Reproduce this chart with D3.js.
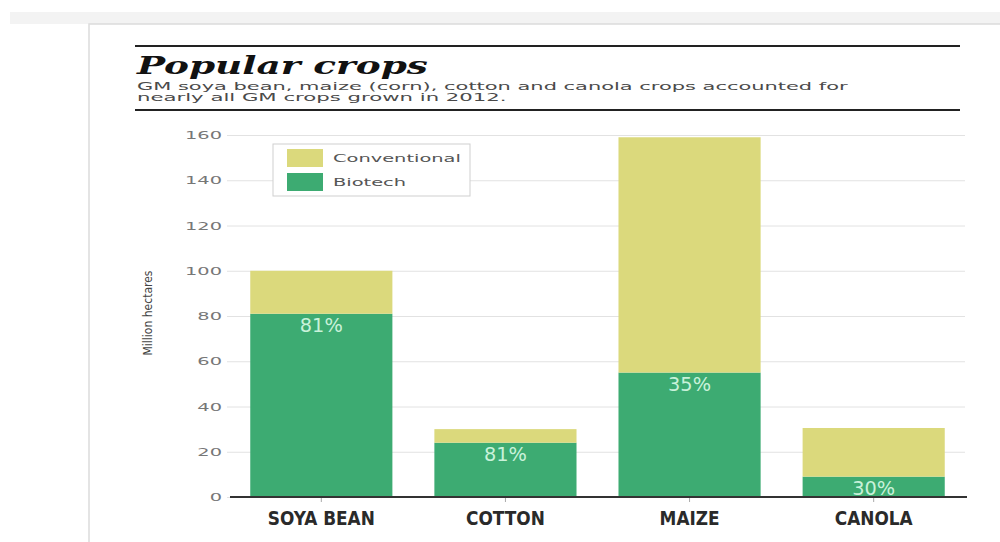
<!DOCTYPE html>
<html lang="en">
<head>
<meta charset="UTF-8">
<title>Popular crops</title>
<script src="https://d3js.org/d3.v7.min.js"></script>
<style>
    body { margin: 0; background: #fff; }
    svg { display: block; }
</style>
</head>
<body>
<div class="canvas"></div>
<script>
    // data
    const crops = ['SOYA BEAN', 'COTTON', 'MAIZE', 'CANOLA']
    const biotech = [81, 24, 55, 9]
    const conventional = [19, 6, 104, 21.5]
    const shares = ['81%', '81%', '35%', '30%']
    const yTicks = [0, 20, 40, 60, 80, 100, 120, 140, 160]
    const seriesNames = ['Conventional', 'Biotech']
    const colors = { Conventional: '#dbd97c', Biotech: '#3dab72' }

    const width = 1000
    const height = 542
    let [mt, mb, mr, ml] = [135, 45, 35, 230]

    const condensed = '"DejaVu Sans Condensed", "Liberation Sans Narrow", sans-serif'

    const svg = d3.select('.canvas')
                .append('svg')
                .attr('width', width)
                .attr('height', height)

    // the picture is stretched sideways, so the text is too.
    // k is worked out from how wide one sample label looks in the picture
    function stretchTo(sel, sampleWidth) {
        const first = sel.node()
        const k = sampleWidth / first.getComputedTextLength()
        sel.each(function() {
            const t = d3.select(this)
            const x = +t.attr('x') || 0
            t.attr('x', x / k)
             .attr('transform', (t.attr('transform') || '') + ` scale(${k},1)`)
        })
    }

    // page frame
    svg.append('rect').attr('x', 10).attr('y', 12).attr('width', 990).attr('height', 12).attr('fill', '#f3f3f3')
    svg.append('rect').attr('x', 89).attr('y', 24).attr('width', 920).attr('height', 530)
        .attr('fill', '#fff').attr('stroke', '#dcdcdc').attr('stroke-width', 1.5)

    // header
    svg.append('line').attr('x1', 135).attr('x2', 960).attr('y1', 46).attr('y2', 46)
        .attr('stroke', '#222').attr('stroke-width', 2)
    svg.append('line').attr('x1', 135).attr('x2', 960).attr('y1', 110).attr('y2', 110)
        .attr('stroke', '#222').attr('stroke-width', 2)

    const title = svg.append('text')
        .attr('x', 137).attr('y', 74)
        .style('font-family', '"DejaVu Serif", serif')
        .style('font-weight', 'bold').style('font-style', 'italic')
        .style('font-size', '24px').attr('fill', '#111')
        .text('Popular crops')
    stretchTo(title, 291)

    const sub = svg.append('g')
        .style('font-family', '"DejaVu Sans", sans-serif')
        .style('font-size', '11px').attr('fill', '#4a4a4a')
    const sub1 = sub.append('text').attr('x', 137).attr('y', 90)
        .text('GM soya bean, maize (corn), cotton and canola crops accounted for')
    const sub2 = sub.append('text').attr('x', 137).attr('y', 101)
        .text('nearly all GM crops grown in 2012.')
    stretchTo(sub1, 711)
    stretchTo(sub2, 370)

    // scales
    const x = d3.scaleBand()
                .domain(crops)
                .range([ml, width - mr])
                .paddingInner(0.228)
                .paddingOuter(0.11)

    const y = d3.scaleLinear()
                .domain([0, 160])
                .range([497, mt])

    // grid + y labels
    const yAxisG = svg.append('g').attr('transform', `translate(${ml}, 0)`)
    yAxisG.call(d3.axisLeft(y).tickValues(yTicks).tickSize(-(width - mr - ml)).tickPadding(8))
    yAxisG.select('.domain').remove()
    yAxisG.selectAll('.tick line').attr('stroke', '#e2e2e2').attr('x1', -3)
    yAxisG.selectAll('.tick text')
        .style('font-family', '"DejaVu Sans", sans-serif')
        .style('font-size', '11px').attr('fill', '#777')
    // sample is the top label, "160"
    stretchTo(d3.selectAll(yAxisG.selectAll('.tick text').nodes().reverse()), 37)

    svg.append('text')
        .attr('transform', 'translate(152, 313) rotate(-90)')
        .attr('text-anchor', 'middle')
        .style('font-family', condensed)
        .style('font-size', '12px').attr('fill', '#444')
        .text('Million hectares')

    // stacked bars
    const rows = crops.map((c, i) => ({ crop: c, Biotech: biotech[i], Conventional: conventional[i], share: shares[i] }))
    const stack = d3.stack().keys(['Biotech', 'Conventional'])(rows)

    svg.append('g').selectAll('g')
        .data(stack)
        .enter().append('g')
        .attr('fill', d => colors[d.key])
        .selectAll('rect')
        .data(d => d)
        .enter().append('rect')
        .attr('x', d => x(d.data.crop))
        .attr('width', x.bandwidth())
        .attr('y', d => y(d[1]))
        .attr('height', d => y(d[0]) - y(d[1]))

    // percentage labels
    const pct = svg.append('g').selectAll('text')
        .data(rows)
        .enter().append('text')
        .attr('x', d => x(d.crop) + x.bandwidth() / 2)
        .attr('y', d => Math.min(y(d.Biotech) + 18, y(0) - 2))
        .attr('text-anchor', 'middle')
        .style('font-family', condensed)
        .style('font-size', '19px').style('font-weight', 500).attr('fill', '#c9f2da')
        .text(d => d.share)
    stretchTo(pct, 43)

    // x axis
    const xAxisG = svg.append('g').attr('transform', `translate(0, ${y(0)})`)
    xAxisG.call(d3.axisBottom(x).tickSize(5).tickPadding(10))
    xAxisG.select('.domain').remove()
    xAxisG.selectAll('.tick line').attr('stroke', '#aaa')
    xAxisG.selectAll('.tick text')
        .style('font-family', condensed)
        .style('font-size', '19px').style('font-weight', 'bold').attr('fill', '#2a2a2a')
    stretchTo(xAxisG.selectAll('.tick text'), 107)

    svg.append('line')
        .attr('x1', ml).attr('x2', width - mr + 2)
        .attr('y1', y(0)).attr('y2', y(0))
        .attr('stroke', '#333').attr('stroke-width', 2)

    // legend
    const legend = svg.append('g').attr('transform', 'translate(273, 144)')
    legend.append('rect').attr('width', 197).attr('height', 52)
        .attr('fill', '#fff').attr('stroke', '#cfcfcf')
    const items = legend.selectAll('g.item')
        .data(seriesNames)
        .enter().append('g')
        .attr('class', 'item')
        .attr('transform', (d, i) => `translate(14, ${5 + i * 24})`)
    items.append('rect').attr('width', 36).attr('height', 18).attr('fill', d => colors[d])
    items.append('text')
        .attr('x', 46).attr('y', 13)
        .style('font-family', '"DejaVu Sans", sans-serif')
        .style('font-size', '11px').attr('fill', '#555')
        .text(d => d)
    stretchTo(items.selectAll('text'), 128)
</script>
</body>
</html>
